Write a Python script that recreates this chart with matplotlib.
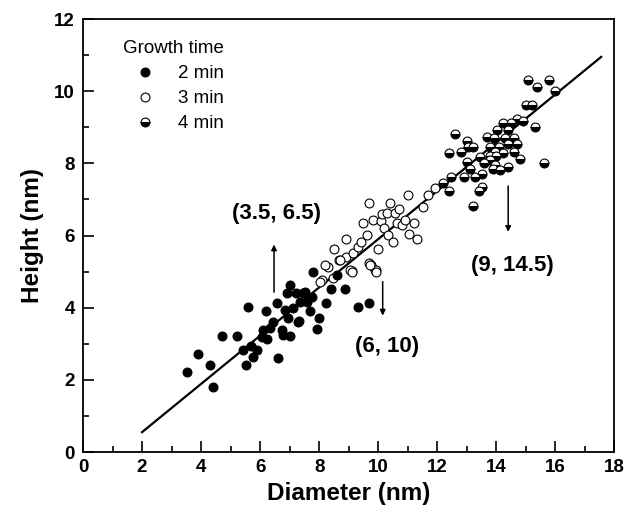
import matplotlib
matplotlib.use("Agg")
import matplotlib.pyplot as plt
from matplotlib.ticker import MultipleLocator

plt.rcParams['font.family'] = ['Liberation Sans', 'DejaVu Sans']

# 2 min (filled)
d2 = [3.51, 3.91, 4.30, 4.41, 4.71, 5.20, 5.41, 5.51, 5.60, 5.77, 5.88, 5.70, 6.11, 6.05,
      6.20, 6.22, 6.42, 6.56, 6.61, 6.73, 6.78, 7.01, 6.84, 6.90, 7.01, 6.95, 7.12, 7.21,
      7.29, 7.35, 7.52, 7.58, 7.74, 7.69, 7.80, 7.91, 8.00, 8.22, 8.40, 8.61, 8.87, 9.30,
      9.70, 7.32, 7.46, 6.35]
h2 = [2.21, 2.71, 2.40, 1.81, 3.21, 3.21, 2.83, 2.40, 4.01, 2.64, 2.83, 2.95, 3.38, 3.18,
      3.91, 3.12, 3.61, 4.12, 2.61, 3.38, 3.24, 3.21, 3.94, 4.40, 4.63, 3.71, 3.98, 4.42,
      3.61, 4.17, 4.44, 4.17, 4.30, 3.91, 5.00, 3.40, 3.71, 4.12, 4.51, 4.91, 4.51, 4.01,
      4.12, 3.63, 4.40, 3.45]

# 3 min (open)
d3 = [8.31, 8.50, 8.68, 8.91, 8.91, 9.10, 9.15, 9.32, 9.40, 9.49, 9.61, 9.70, 9.70, 9.83,
      9.89, 10.00, 10.08, 10.11, 10.19, 10.28, 10.40, 10.34, 10.51, 10.57, 10.62, 10.71,
      10.79, 10.90, 11.02, 11.05, 11.21, 11.30, 11.52, 11.69, 11.92, 9.77, 9.94, 8.08,
      8.48, 9.04, 8.03, 9.10, 9.72, 9.92, 8.20, 8.70]
h3 = [5.12, 5.62, 5.32, 5.41, 5.90, 5.03, 5.51, 5.69, 5.83, 6.34, 6.01, 6.91, 5.23, 6.43,
      5.04, 5.62, 6.41, 6.60, 6.20, 6.63, 6.89, 6.01, 5.83, 6.61, 6.36, 6.73, 6.29, 6.43,
      7.12, 6.04, 6.34, 5.91, 6.80, 7.12, 7.31, 5.18, 5.04, 4.77, 4.81, 5.04, 4.72, 5.00,
      5.18, 5.00, 5.18, 5.32]

# 4 min (half filled)
d4 = [15.08, 15.38, 15.79, 15.98, 15.00, 15.19, 15.31, 14.69, 14.91, 14.48, 14.21, 14.40,
      14.01, 12.60, 13.02, 13.67, 13.92, 14.60, 14.29, 14.71, 13.05, 13.22, 13.78, 14.10,
      14.40, 12.40, 12.79, 13.95, 14.60, 14.21, 13.78, 13.44, 14.00, 14.80, 13.78, 12.99,
      13.58, 13.95, 15.61, 13.11, 13.90, 14.40, 14.12, 12.48, 12.90, 13.27, 13.50, 12.20,
      12.40, 13.50, 13.42, 13.22]
h4 = [10.31, 10.12, 10.31, 10.01, 9.62, 9.62, 9.02, 9.22, 9.18, 9.13, 9.13, 8.92,
      8.92, 8.81, 8.63, 8.72, 8.69, 8.71, 8.69, 8.54, 8.45, 8.45, 8.45, 8.45,
      8.54, 8.30, 8.32, 8.32, 8.32, 8.28, 8.20, 8.17, 8.20, 8.11, 8.09, 8.05,
      8.02, 7.95, 8.02, 7.84, 7.84, 7.91, 7.82, 7.63, 7.61, 7.63, 7.70, 7.45,
      7.24, 7.34, 7.22, 6.82]

fit_x = [2.0, 17.55]
fit_y = [0.55, 10.95]

labels = ["2 min", "3 min", "4 min"]
notes = ["(3.5, 6.5)", "(6, 10)", "(9, 14.5)"]
note_xy = [(6.55, 6.62), (10.3, 2.92), (14.55, 5.18)]
arrow_x = [6.47, 10.15, 14.40]
arrow_from = [4.43, 4.72, 7.37]
arrow_to = [5.75, 3.78, 6.10]

fig = plt.figure(figsize=(6.34, 5.18), dpi=100)
ax = fig.add_axes([0.1309, 0.1274, 0.8383, 0.8359])

ms = 6.4
ax.plot(fit_x, fit_y, color='black', lw=1.6, zorder=1)
ax.plot(d2, h2, 'o', ls='none', ms=ms, mfc='black', mec='black', mew=0.8, label=labels[0], zorder=3)
ax.plot(d3, h3, 'o', ls='none', ms=ms, mfc='white', mec='black', mew=0.8, label=labels[1], zorder=2)
ax.plot(d4, h4, 'o', ls='none', ms=ms, fillstyle='bottom', mfc='black', mfcalt='white',
        mec='black', mew=0.8, label=labels[2], zorder=3)

for (tx, ty), t, ax_x, a0, a1 in zip(note_xy, notes, arrow_x, arrow_from, arrow_to):
    ax.annotate('', xy=(ax_x, a1), xytext=(ax_x, a0),
                arrowprops=dict(arrowstyle='-|>', color='black', lw=1.1,
                                mutation_scale=8, shrinkA=0, shrinkB=0))
    ax.text(tx, ty, t, ha='center', va='center', fontsize=16, fontweight='bold')

ax.set_xlim(0, 18)
ax.set_ylim(0, 12)
ax.xaxis.set_major_locator(MultipleLocator(2))
ax.xaxis.set_minor_locator(MultipleLocator(1))
ax.yaxis.set_major_locator(MultipleLocator(2))
ax.yaxis.set_minor_locator(MultipleLocator(1))
ax.tick_params(which='both', direction='in', top=False, right=False, width=1.2)
ax.tick_params(which='major', length=8, labelsize=13.5)
ax.tick_params(axis='x', which='major', pad=5)
ax.tick_params(axis='y', which='major', pad=6)
ax.tick_params(which='minor', length=4.5)
for lab in ax.get_xticklabels() + ax.get_yticklabels():
    lab.set_fontweight('bold')
for s in ax.spines.values():
    s.set_linewidth(1.3)

ax.set_xlabel('Diameter (nm)', fontsize=17.5, fontweight='bold', labelpad=4)
ax.set_ylabel('Height (nm)', fontsize=17.5, fontweight='bold', labelpad=7)

leg = ax.legend(loc='upper left', bbox_to_anchor=(0.062, 0.968), frameon=False,
                title='Growth time', fontsize=13.5, title_fontsize=13.5,
                handletextpad=0.6, labelspacing=0.42, borderaxespad=0.0,
                borderpad=0.4, handlelength=2.3)
leg._legend_box.align = 'left'

fig.savefig('out.png', dpi=100)
